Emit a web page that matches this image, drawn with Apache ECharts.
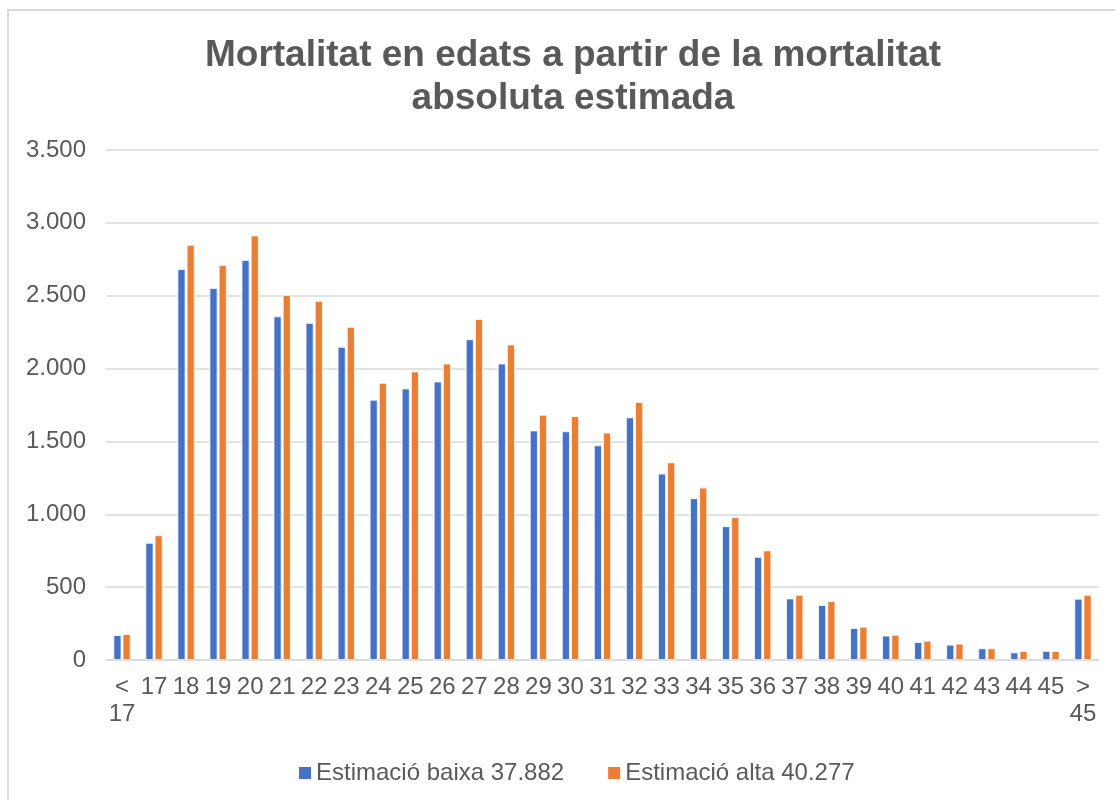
<!DOCTYPE html>
<html>
<head>
<meta charset="utf-8">
<script src="https://cdn.jsdelivr.net/npm/echarts@6/dist/echarts.min.js"></script>
<style>
	html, body { margin: 0; padding: 0; background: #fff; }
	#echart { width: 1115px; height: 800px; }
</style>
</head>
<body>
<div id="echart"></div>
<script>
	'use strict'

	/*-----data-----*/
	var categories = ['<\n17', '17', '18', '19', '20', '21', '22', '23', '24', '25', '26', '27', '28', '29', '30',
		'31', '32', '33', '34', '35', '36', '37', '38', '39', '40', '41', '42', '43', '44', '45', '>\n45'];
	var baixa = [171, 804, 2683, 2553, 2745, 2358, 2313, 2149, 1786, 1863, 1911, 2201, 2034, 1575, 1569,
		1473, 1665, 1279, 1110, 918, 708, 422, 377, 219, 167, 123, 105, 80, 52, 62, 420];
	var alta = [178, 856, 2849, 2710, 2913, 2505, 2464, 2286, 1902, 1980, 2034, 2340, 2165, 1683, 1674,
		1560, 1770, 1356, 1183, 980, 752, 447, 404, 228, 173, 132, 112, 80, 62, 62, 447];
	var seriesNames = ['Estimació baixa 37.882', 'Estimació alta 40.277'];
	var yTicks = [0, 500, 1000, 1500, 2000, 2500, 3000, 3500];

	var textColor = '#595959';
	var font = '"Liberation Sans", Arial, sans-serif';

	function thousands(v) {
		return String(v).replace(/\B(?=(\d{3})+(?!\d))/g, '.');
	}

	var chart = echarts.init(document.getElementById('echart'));
	var option = {
		animation: false,
		textStyle: { fontFamily: font },
		graphic: [{
			type: 'rect',
			shape: { x: 8, y: 10, width: 1120, height: 800 },
			style: { fill: 'none', stroke: '#d9d9d9', lineWidth: 2 },
			silent: true
		}],
		title: {
			text: 'Mortalitat en edats a partir de la mortalitat\nabsoluta estimada',
			left: 568,
			textAlign: 'center',
			top: 29,
			textStyle: {
				fontFamily: font,
				fontSize: 37,
				fontWeight: 'bold',
				color: textColor,
				lineHeight: 43
			}
		},
		legend: {
			data: seriesNames,
			left: 294,
			top: 756,
			icon: 'rect',
			itemWidth: 12,
			itemHeight: 12,
			itemGap: 44,
			itemStyle: { borderWidth: 0 },
			textStyle: { fontFamily: font, fontSize: 24, color: textColor }
		},
		grid: {
			left: 106,
			right: 16,
			top: 150,
			bottom: 140
		},
		xAxis: {
			type: 'category',
			data: categories,
			axisTick: { show: false },
			axisLine: { lineStyle: { color: '#d9d9d9', width: 1.5 } },
			axisLabel: {
				interval: 0,
				margin: 14,
				fontSize: 24,
				lineHeight: 27,
				color: textColor,
				fontFamily: font
			}
		},
		yAxis: {
			type: 'value',
			min: yTicks[0],
			max: yTicks[yTicks.length - 1],
			interval: 500,
			axisLine: { show: false },
			axisTick: { show: false },
			splitLine: { lineStyle: { color: '#d9d9d9', width: 1.5 } },
			axisLabel: {
				margin: 20,
				fontSize: 24,
				color: textColor,
				fontFamily: font,
				formatter: thousands
			}
		},
		series: [{
			name: seriesNames[0],
			type: 'bar',
			data: baixa,
			barWidth: 8,
			barGap: '15%',
			itemStyle: { color: '#4472C4', borderColor: '#fff', borderWidth: 0.8 }
		}, {
			name: seriesNames[1],
			type: 'bar',
			data: alta,
			barWidth: 8,
			barGap: '15%',
			itemStyle: { color: '#ED7D31', borderColor: '#fff', borderWidth: 0.8 }
		}]
	};
	chart.setOption(option);
</script>
</body>
</html>
